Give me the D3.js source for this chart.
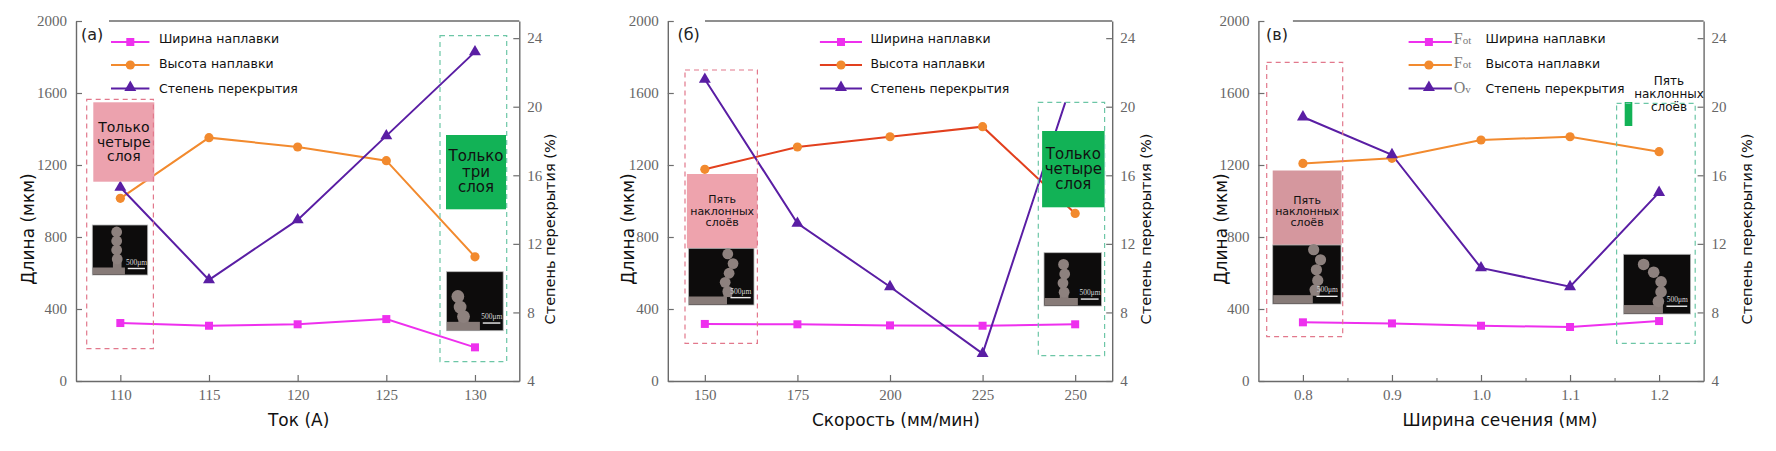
<!DOCTYPE html>
<html><head><meta charset="utf-8">
<script src="https://cdn.jsdelivr.net/npm/d3@7"></script>
<style>body{margin:0;background:#fff}svg{display:block}</style>
</head><body>
<svg id="c" width="1776" height="451"></svg>
<script>
// ---------- data ----------
const currentA = [110, 115, 120, 125, 130];
const widthA   = [322, 307, 315, 344, 187];
const heightA  = [1015, 1352, 1300, 1224, 690];
const overlapA = [15.3, 9.9, 13.4, 18.3, 23.2];

const speedB   = [150, 175, 200, 225, 250];
const widthB   = [317, 315, 309, 307, 315];
const heightB  = [1176, 1300, 1357, 1413, 931];
const overlapB = [21.6, 13.2, 9.5, 5.6, 22.0];

const sectionC = [0.8, 0.9, 1.0, 1.1, 1.2];
const widthC   = [326, 320, 307, 300, 333];
const heightC  = [1209, 1237, 1339, 1357, 1274];
const overlapC = [19.4, 17.2, 10.6, 9.5, 15.0];

const leftTicks  = [0, 400, 800, 1200, 1600, 2000];
const rightTicks = [4, 8, 12, 16, 20, 24];
const legendLabels = ["Ширина наплавки", "Высота наплавки", "Степень перекрытия"];
const yLeftTitle  = "Длина (мкм)";
const yRightTitle = "Степень перекрытия (%)";

// ---------- layout / style ----------
const TOP = 21, BOT = 381;
const C_W = "#ee30ee", C_H = "#f28a2e", C_HB = "#e2401e", C_O = "#5a1ea4";
const AX = "#6a6a6a", TICKC = "#6e6e6e";

const panels = [
  { tag: "(а)", xs: currentA, w: widthA, h: heightA, o: overlapA, xdom: [107.5, 132.5],
    left: 76, width: 443.3, fmt: d3.format("d"), minor: [],
    xtitle: "Ток (А)", xtOff: 1, yLOff: -48.4, yROff: 30.5, tagX: 5, topGap: 33,
    hLine: C_H, legX: [35, 73.4, 54.3, 83], clipTop: null,
    notes: {
      pinkDash: [10.7, 99.3, 77.4, 348.7],
      pinkFill: [17.3, 102.3, 78.3, 181.7, "#eca2ae"], pinkText: [["Только", "четыре", "слоя"], [126.7, 141.7, 155.7], 14],
      img1: [16.3, 225, 71.7, 275, [[0.44,0.14],[0.44,0.32],[0.44,0.5],[0.45,0.68]], 5.4],
      greenDash: [364, 35.7, 430.7, 361.7],
      greenFill: [370, 135, 430, 209.3], greenText: [["Только", "три", "слоя"], [156, 172.3, 187.3], 15],
      img2: [370.5, 271.7, 427.2, 330.7, [[0.2,0.42],[0.24,0.6],[0.3,0.76]], 6.4]
    } },
  { tag: "(б)", xs: speedB, w: widthB, h: heightB, o: overlapB, xdom: [140, 260],
    left: 667.8, width: 444.4, fmt: d3.format("d"), minor: [],
    xtitle: "Скорость (мм/мин)", xtOff: 6, yLOff: -39.5, yROff: 33.4, tagX: 9.6, topGap: 37.2,
    hLine: C_HB, legX: [152.1, 194.2, 173.2, 202.7], clipTop: true,
    notes: {
      pinkDash: [17.2, 70, 89.6, 343.3],
      pinkFill: [19.1, 174, 89.6, 248.3, "#eea3ad"], pinkText: [["Пять", "наклонных", "слоёв"], [199, 211, 222.7], 11],
      img1: [20.7, 248.3, 86.2, 305, [[0.6,0.1],[0.68,0.27],[0.62,0.44],[0.56,0.6],[0.6,0.76]], 5.4],
      greenDash: [370.5, 102.3, 436.8, 355.7],
      greenFill: [374.3, 131, 436.8, 207.3], greenText: [["Только", "четыре", "слоя"], [154, 169, 184], 15],
      img2: [376.2, 252.7, 433.7, 306, [[0.34,0.22],[0.36,0.4],[0.33,0.57],[0.35,0.74]], 5.4]
    } },
  { tag: "(в)", xs: sectionC, w: widthC, h: heightC, o: overlapC, xdom: [0.75, 1.25],
    left: 1258.4, width: 445.2, fmt: d3.format(".1f"), minor: [0.85, 0.95, 1.05, 1.15],
    xtitle: "Ширина сечения (мм)", xtOff: 19, yLOff: -37.6, yROff: 43.3, tagX: 7.6, topGap: 34.5,
    hLine: C_H, legX: [150.2, 193.5, 170.5, 227.2], clipTop: null, ghost: 195.4,
    notes: {
      pinkDash: [8.3, 62.3, 84.3, 336.7],
      pinkFill: [14.3, 170.5, 83.1, 245, "#d5979e"], pinkText: [["Пять", "наклонных", "слоёв"], [200, 211.7, 222.7], 11],
      img1: [14.3, 245, 82.6, 304, [[0.6,0.08],[0.7,0.25],[0.64,0.42],[0.66,0.6],[0.62,0.76]], 5.6],
      greenDash: [358.2, 103.3, 436.8, 343.3],
      greenSmall: [366.3, 102, 373.9, 126],
      topText: [["Пять", "наклонных", "слоёв"], [81, 94.3, 107.3], 12, 410.6],
      img2: [365.1, 254.3, 432.2, 314, [[0.3,0.17],[0.45,0.3],[0.56,0.46],[0.56,0.63],[0.52,0.79]], 5.8]
    } }
];

const svg = d3.select("#c");
const yL = d3.scaleLinear().domain([0, 2000]).range([BOT, TOP]);
const yR = d3.scaleLinear().domain([4, 25]).range([BOT, TOP]);
const legMarkY = [42, 65, 88.5];
const legTextY = [38.8, 63.3, 88.3];

function styleAxis(g) {
  g.select(".domain").attr("stroke", AX).attr("stroke-width", 1.4);
  g.selectAll(".tick line").attr("stroke", TICKC).attr("stroke-width", 1.2);
  g.selectAll(".tick text").attr("fill", "#666").attr("font-family", "Liberation Serif, serif").attr("font-size", 15);
}

function squareMark(g, x, y, color, s) {
  g.append("rect").attr("x", x - s / 2).attr("y", y - s / 2).attr("width", s).attr("height", s).attr("fill", color);
}
function circleMark(g, x, y, color, r) {
  g.append("circle").attr("cx", x).attr("cy", y).attr("r", r).attr("fill", color);
}
function triMark(g, x, y, color, size) {
  g.append("path").attr("d", d3.symbol().type(d3.symbolTriangle).size(size)()).attr("transform", `translate(${x},${y})`).attr("fill", color);
}

function micro(g, L, spec) {
  const [a, b, c, d, blobs, r] = spec;
  const x0 = L + a, x1 = L + c, w = x1 - x0, h = d - b;
  g.append("rect").attr("x", x0).attr("y", b).attr("width", w).attr("height", h)
    .attr("fill", "#0d0c0c").attr("stroke", "#b8b8b8").attr("stroke-width", 0.8);
  g.append("rect").attr("x", x0 + 0.5).attr("y", b + h * 0.85).attr("width", w * 0.58).attr("height", h * 0.15 - 0.5).attr("fill", "#877b78");
  const last = blobs[blobs.length - 1];
  g.append("rect").attr("x", x0 + last[0] * w - r * 0.8).attr("y", b + last[1] * h).attr("width", r * 1.6).attr("height", h * (0.86 - last[1])).attr("fill", "#877b78");
  blobs.forEach(([fx, fy]) => {
    g.append("circle").attr("cx", x0 + fx * w).attr("cy", b + fy * h).attr("r", r).attr("fill", "#8d817e");
  });
  g.append("text").attr("x", x0 + w * 0.8).attr("y", b + h * 0.8).attr("text-anchor", "middle")
    .attr("font-family", "Liberation Serif, serif").attr("font-size", 7.5).attr("fill", "#d8d8d8").text("500μm");
  g.append("line").attr("x1", x0 + w * 0.64).attr("x2", x0 + w * 0.95).attr("y1", b + h * 0.87).attr("y2", b + h * 0.87)
    .attr("stroke", "#eeeeee").attr("stroke-width", 1.4);
}

function dashRect(g, L, r, color) {
  g.append("rect").attr("x", L + r[0]).attr("y", r[1]).attr("width", r[2] - r[0]).attr("height", r[3] - r[1])
    .attr("fill", "none").attr("stroke", color).attr("stroke-width", 1.2).attr("stroke-dasharray", "5,4");
}
function fillRect(g, L, r, color) {
  g.append("rect").attr("x", L + r[0]).attr("y", r[1]).attr("width", r[2] - r[0]).attr("height", r[3] - r[1]).attr("fill", color);
}
function lines(g, cx, t) {
  const [arr, ys, fs] = t;
  arr.forEach((s, i) => g.append("text").attr("x", cx).attr("y", ys[i]).attr("text-anchor", "middle")
    .attr("dominant-baseline", "central").attr("font-family", "DejaVu Sans, sans-serif").attr("font-size", fs)
    .attr("fill", "#111").text(s));
}

panels.forEach((p, pi) => {
  const L = p.left, R = p.left + p.width;
  const x = d3.scaleLinear().domain(p.xdom).range([L, R]);
  const g = svg.append("g");

  const clipId = "clip" + pi;
  const cp = svg.append("defs").append("clipPath").attr("id", clipId);
  if (p.clipTop) {
    const gd = p.notes.greenDash;
    cp.append("path").attr("d", `M${L},${TOP}H${L + gd[0]}V${gd[1]}H${R}V${BOT}H${L}Z`);
  } else {
    cp.append("rect").attr("x", L).attr("y", TOP - 10).attr("width", p.width).attr("height", BOT - TOP + 10);
  }

  const gx = g.append("g").attr("transform", `translate(0,${BOT})`)
    .call(d3.axisBottom(x).tickValues(p.xs).tickFormat(p.fmt).tickSize(-6).tickSizeOuter(0).tickPadding(8.5));
  styleAxis(gx);
  if (p.minor.length) {
    const gm = g.append("g").attr("transform", `translate(0,${BOT})`)
      .call(d3.axisBottom(x).tickValues(p.minor).tickFormat("").tickSize(-3).tickSizeOuter(0));
    gm.select(".domain").remove();
    gm.selectAll(".tick line").attr("stroke", TICKC).attr("stroke-width", 1.1);
  }
  const gl = g.append("g").attr("transform", `translate(${L},0)`)
    .call(d3.axisLeft(yL).tickValues(leftTicks).tickFormat(d3.format("d")).tickSize(-6).tickSizeOuter(0).tickPadding(9));
  styleAxis(gl);
  const gr = g.append("g").attr("transform", `translate(${R},0)`)
    .call(d3.axisRight(yR).tickValues(rightTicks).tickFormat(d3.format("d")).tickSize(-6).tickSizeOuter(0).tickPadding(8));
  styleAxis(gr);
  g.append("line").attr("x1", L + p.topGap).attr("x2", R).attr("y1", TOP).attr("y2", TOP)
    .attr("stroke", AX).attr("stroke-width", 1.4);

  g.append("text").attr("x", L + p.tagX).attr("y", 39.5).attr("font-family", "DejaVu Sans, sans-serif")
    .attr("font-size", 16).attr("fill", "#222").text(p.tag);

  g.append("text").attr("x", (L + R) / 2 + p.xtOff).attr("y", 426).attr("text-anchor", "middle")
    .attr("font-family", "DejaVu Sans, sans-serif").attr("font-size", 17).attr("fill", "#111").text(p.xtitle);
  g.append("text").attr("transform", `translate(${L + p.yLOff},229) rotate(-90)`).attr("text-anchor", "middle")
    .attr("dominant-baseline", "central").attr("font-family", "DejaVu Sans, sans-serif").attr("font-size", 17)
    .attr("fill", "#111").text(yLeftTitle);
  g.append("text").attr("transform", `translate(${R + p.yROff},229) rotate(-90)`).attr("text-anchor", "middle")
    .attr("dominant-baseline", "central").attr("font-family", "DejaVu Sans, sans-serif").attr("font-size", 14.5)
    .attr("fill", "#111").text(yRightTitle);

  const data = p.xs.map((v, i) => ({ x: v, w: p.w[i], h: p.h[i], o: p.o[i] }));
  const dg = g.append("g").attr("clip-path", `url(#${clipId})`);
  dg.append("path").datum(data).attr("d", d3.line().x(d => x(d.x)).y(d => yL(d.w)))
    .attr("fill", "none").attr("stroke", C_W).attr("stroke-width", 2);
  dg.append("path").datum(data).attr("d", d3.line().x(d => x(d.x)).y(d => yL(d.h)))
    .attr("fill", "none").attr("stroke", p.hLine).attr("stroke-width", 2);
  dg.append("path").datum(data).attr("d", d3.line().x(d => x(d.x)).y(d => yR(d.o)))
    .attr("fill", "none").attr("stroke", C_O).attr("stroke-width", 2);
  data.forEach(d => {
    squareMark(dg, x(d.x), yL(d.w), C_W, 8);
    circleMark(dg, x(d.x), yL(d.h), C_H, 4.6);
    triMark(dg, x(d.x), yR(d.o), C_O, 62);
  });

  const n = p.notes;
  fillRect(g, L, n.pinkFill, n.pinkFill[4]);
  lines(g, L + (n.pinkFill[0] + n.pinkFill[2]) / 2, n.pinkText);
  micro(g, L, n.img1);
  dashRect(g, L, n.pinkDash, "#e2788c");
  if (n.greenFill) {
    fillRect(g, L, n.greenFill, "#12b256");
    lines(g, L + (n.greenFill[0] + n.greenFill[2]) / 2, n.greenText);
  }
  if (n.greenSmall) fillRect(g, L, n.greenSmall, "#12b256");
  if (n.topText) lines(g, L + n.topText[3], n.topText);
  micro(g, L, n.img2);
  dashRect(g, L, n.greenDash, "#6cc6a6");

  const [lx0, lx1, mx, tx] = p.legX;
  const colors = [C_W, p.hLine, C_O];
  legendLabels.forEach((lab, i) => {
    const yy = legMarkY[i];
    g.append("line").attr("x1", L + lx0).attr("x2", L + lx1).attr("y1", yy).attr("y2", yy)
      .attr("stroke", colors[i]).attr("stroke-width", 2.2);
    if (i === 0) squareMark(g, L + mx, yy, C_W, 8);
    if (i === 1) circleMark(g, L + mx, yy, C_H, 4.6);
    if (i === 2) triMark(g, L + mx, yy - 1, C_O, 62);
    g.append("text").attr("x", L + tx).attr("y", legTextY[i]).attr("dominant-baseline", "central")
      .attr("font-family", "DejaVu Sans, sans-serif").attr("font-size", 12.5).attr("fill", "#111").text(lab);
  });
  if (p.ghost) {
    const ghosts = [["F", "ot"], ["F", "ot"], ["O", "v"]];
    ghosts.forEach((gs, i) => {
      const t = g.append("text").attr("x", L + p.ghost).attr("y", legTextY[i] + 5)
        .attr("font-family", "Liberation Serif, serif").attr("fill", "#7a7a7a");
      t.append("tspan").attr("font-size", 16).text(gs[0]);
      t.append("tspan").attr("font-size", 11).text(gs[1]);
    });
  }
});
</script>
</body></html>
